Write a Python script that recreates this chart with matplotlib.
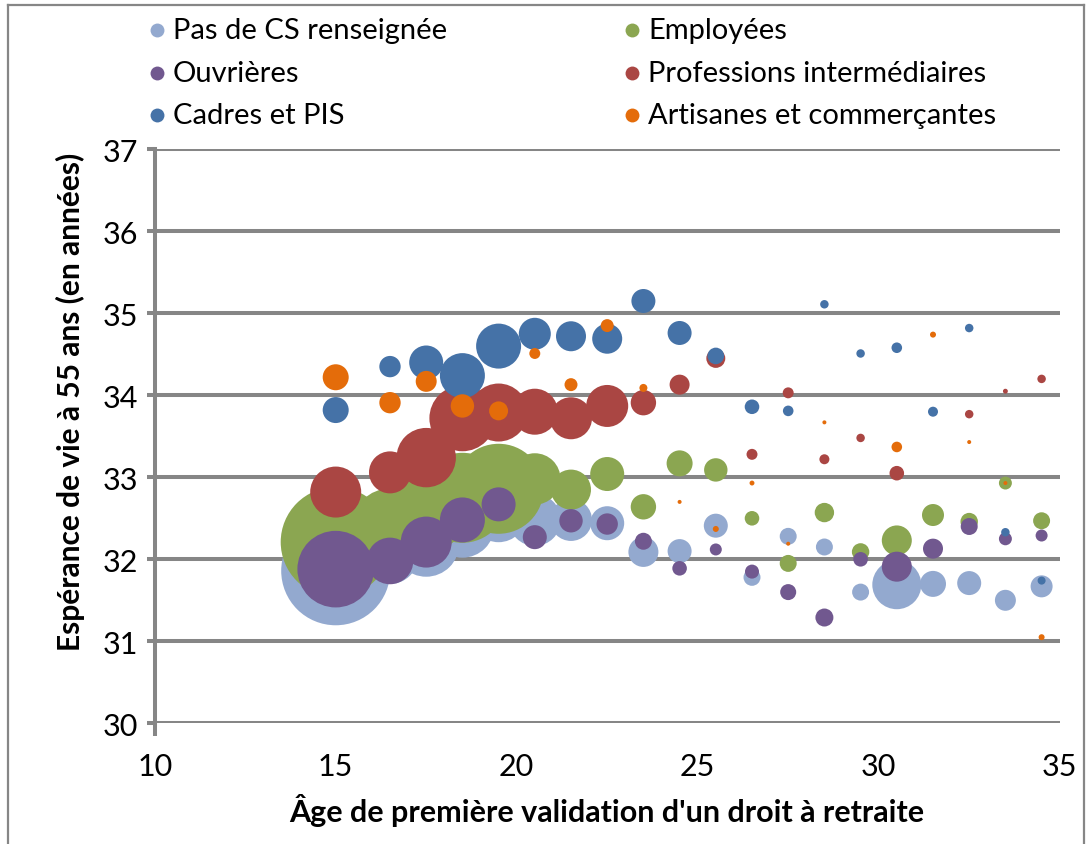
import numpy as np
import matplotlib
matplotlib.use("Agg")
import matplotlib.pyplot as plt
from matplotlib.lines import Line2D

nan = np.nan

# ---- data -------------------------------------------------------------
ages = [15, 16.5, 17.5, 18.5, 19.5, 20.5, 21.5, 22.5, 23.5, 24.5,
        25.5, 26.5, 27.5, 28.5, 29.5, 30.5, 31.5, 32.5, 33.5, 34.5]

series_names = ["Pas de CS renseignée", "Employées", "Ouvrières",
                "Professions intermédiaires", "Cadres et PIS",
                "Artisanes et commerçantes"]

esp_pas_cs = [31.86, 32.04, 32.19, 32.41, 32.55, 32.48, 32.48, 32.44, 32.09, 32.10,
              32.41, 31.78, 32.28, 32.15, 31.60, 31.69, 31.70, 31.71, 31.50, 31.67]
esp_employees = [32.21, 32.40, 32.60, 32.75, 32.86, 32.98, 32.85, 33.04, 32.64, 33.17,
                 33.09, 32.50, 31.95, 32.57, 32.09, 32.23, 32.54, 32.46, 32.93, 32.47]
esp_ouvrieres = [31.88, 31.98, 32.21, 32.48, 32.67, 32.27, 32.47, 32.43, 32.22, 31.89,
                 32.12, 31.85, 31.60, 31.29, 32.00, 31.91, 32.13, 32.40, 32.25, 32.29]
esp_prof_int = [32.82, 33.06, 33.24, 33.72, 33.79, 33.80, 33.72, 33.87, 33.91, 34.13,
                34.45, 33.28, 34.03, 33.22, 33.48, 33.05, nan, 33.77, 34.05, 34.20]
esp_cadres = [33.82, 34.35, 34.40, 34.24, 34.60, 34.75, 34.72, 34.69, 35.15, 34.76,
              34.48, 33.86, 33.81, 35.11, 34.51, 34.58, 33.80, 34.82, 32.33, 31.74]
esp_artisanes = [34.22, 33.91, 34.17, 33.87, 33.81, 34.51, 34.13, 34.85, 34.09, 32.70,
                 32.37, 32.93, 32.19, 33.67, nan, 33.37, 34.74, 33.43, 32.93, 31.05]

# bubble sizes (relative headcounts, proportional to bubble area)
eff_pas_cs = [2970, 784, 1089, 1024, 784, 676, 441, 289, 225, 144,
              144, 72, 72, 72, 72, 600, 169, 144, 110, 121]
eff_employees = [3025, 1444, 1764, 2025, 2025, 660, 400, 289, 161, 169,
                 137, 53, 72, 94, 76, 225, 121, 76, 42, 72]
eff_ouvrieres = [1467, 543, 650, 506, 289, 144, 137, 114, 72, 53,
                 36, 49, 64, 81, 53, 225, 100, 72, 42, 36]
eff_prof_int = [650, 441, 882, 1089, 841, 529, 441, 441, 161, 100,
                90, 30, 30, 25, 18, 53, nan, 18, 6, 18]
eff_cadres = [169, 114, 289, 506, 506, 256, 225, 225, 144, 144,
              69, 53, 28, 18, 18, 28, 25, 18, 18, 16]
eff_artisanes = [169, 114, 110, 137, 90, 30, 42, 42, 16, 4,
                 9, 6, 4, 4, nan, 28, 9, 4, 4, 9]

y_ticks = [30, 31, 32, 33, 34, 35, 36, 37]
x_ticks = [10, 15, 20, 25, 30, 35]

colors = ["#93A9CF", "#8BA651", "#71588F", "#AA4643", "#4572A7", "#E46C0A"]

# ---- figure ------------------------------------------------------------
FONT = ["Lato", "DejaVu Sans"]
plt.rcParams["font.family"] = FONT
W, H, DPI = 1090, 845, 100
fig = plt.figure(figsize=(W / DPI, H / DPI), dpi=DPI)
ax = fig.add_axes([154.7 / W, (H - 724.3) / H, (1059.7 - 154.7) / W, (724.3 - 150.3) / H])

grey = "#868686"
ys = [esp_pas_cs, esp_employees, esp_ouvrieres, esp_prof_int, esp_cadres, esp_artisanes]
ss = [eff_pas_cs, eff_employees, eff_ouvrieres, eff_prof_int, eff_cadres, eff_artisanes]
px2 = (2 * 72 / DPI) ** 2  # px^2 radius -> points^2 area of diameter
for name, yv, sv, c in zip(series_names, ys, ss, colors):
    ax.scatter(ages, yv, s=np.array(sv, dtype=float) * px2, color=c,
               edgecolors="none", linewidths=0, label=name, zorder=3)

ax.set_xlim(10, 35)
ax.set_ylim(30, 37)
ax.set_xticks(x_ticks)
ax.set_yticks(y_ticks)
LW = 2.9
ax.grid(axis="y", color=grey, linewidth=LW, zorder=1)
ax.set_axisbelow(True)
for sp in ["top", "right", "bottom"]:
    ax.spines[sp].set_visible(False)
ax.spines["left"].set_color(grey)
ax.spines["left"].set_linewidth(LW)
ax.tick_params(axis="y", direction="out", length=6, width=LW, color=grey,
               labelsize=22, pad=6)
ax.tick_params(axis="x", length=0, labelsize=22, pad=21)
# extend the vertical axis slightly below the bottom gridline
ax.plot([10, 10], [30, 29.85], color=grey, linewidth=LW, clip_on=False,
        solid_capstyle="butt")

ax.set_xlabel("Âge de première validation d'un droit à retraite",
              fontsize=22, fontweight="bold", labelpad=9)
ax.set_ylabel("Espérance de vie à 55 ans (en années)",
              fontsize=21.5, fontweight="bold", va="center")
ax.yaxis.set_label_coords((70 - 154.7) / (1059.7 - 154.7),
                          (724.3 - 402) / (724.3 - 150.3))

# ---- legend (two columns, three rows) -------------------------------
col_x = [157, 632]
row_y = [31, 74, 116]
for i, (name, c) in enumerate(zip(series_names, colors)):
    r, k = divmod(i, 2)
    mx, my = col_x[k] / W, 1 - row_y[r] / H
    fig.add_artist(Line2D([mx], [my], marker="o", markersize=10, color=c,
                          markeredgewidth=0, linestyle="none",
                          transform=fig.transFigure))
    fig.text(mx + 16 / W, my, name, fontsize=21, va="center", ha="left")

# ---- outer frame ---------------------------------------------------------
fx0, fx1, fy0 = 8 / W, 1084 / W, 1 - 6 / H
for xs_, ys_ in [([fx0, fx0], [0, fy0]), ([fx0, fx1], [fy0, fy0]), ([fx1, fx1], [fy0, 0])]:
    fig.add_artist(Line2D(xs_, ys_, color=grey, linewidth=1.6,
                          transform=fig.transFigure))

fig.savefig("out.png", dpi=DPI)
